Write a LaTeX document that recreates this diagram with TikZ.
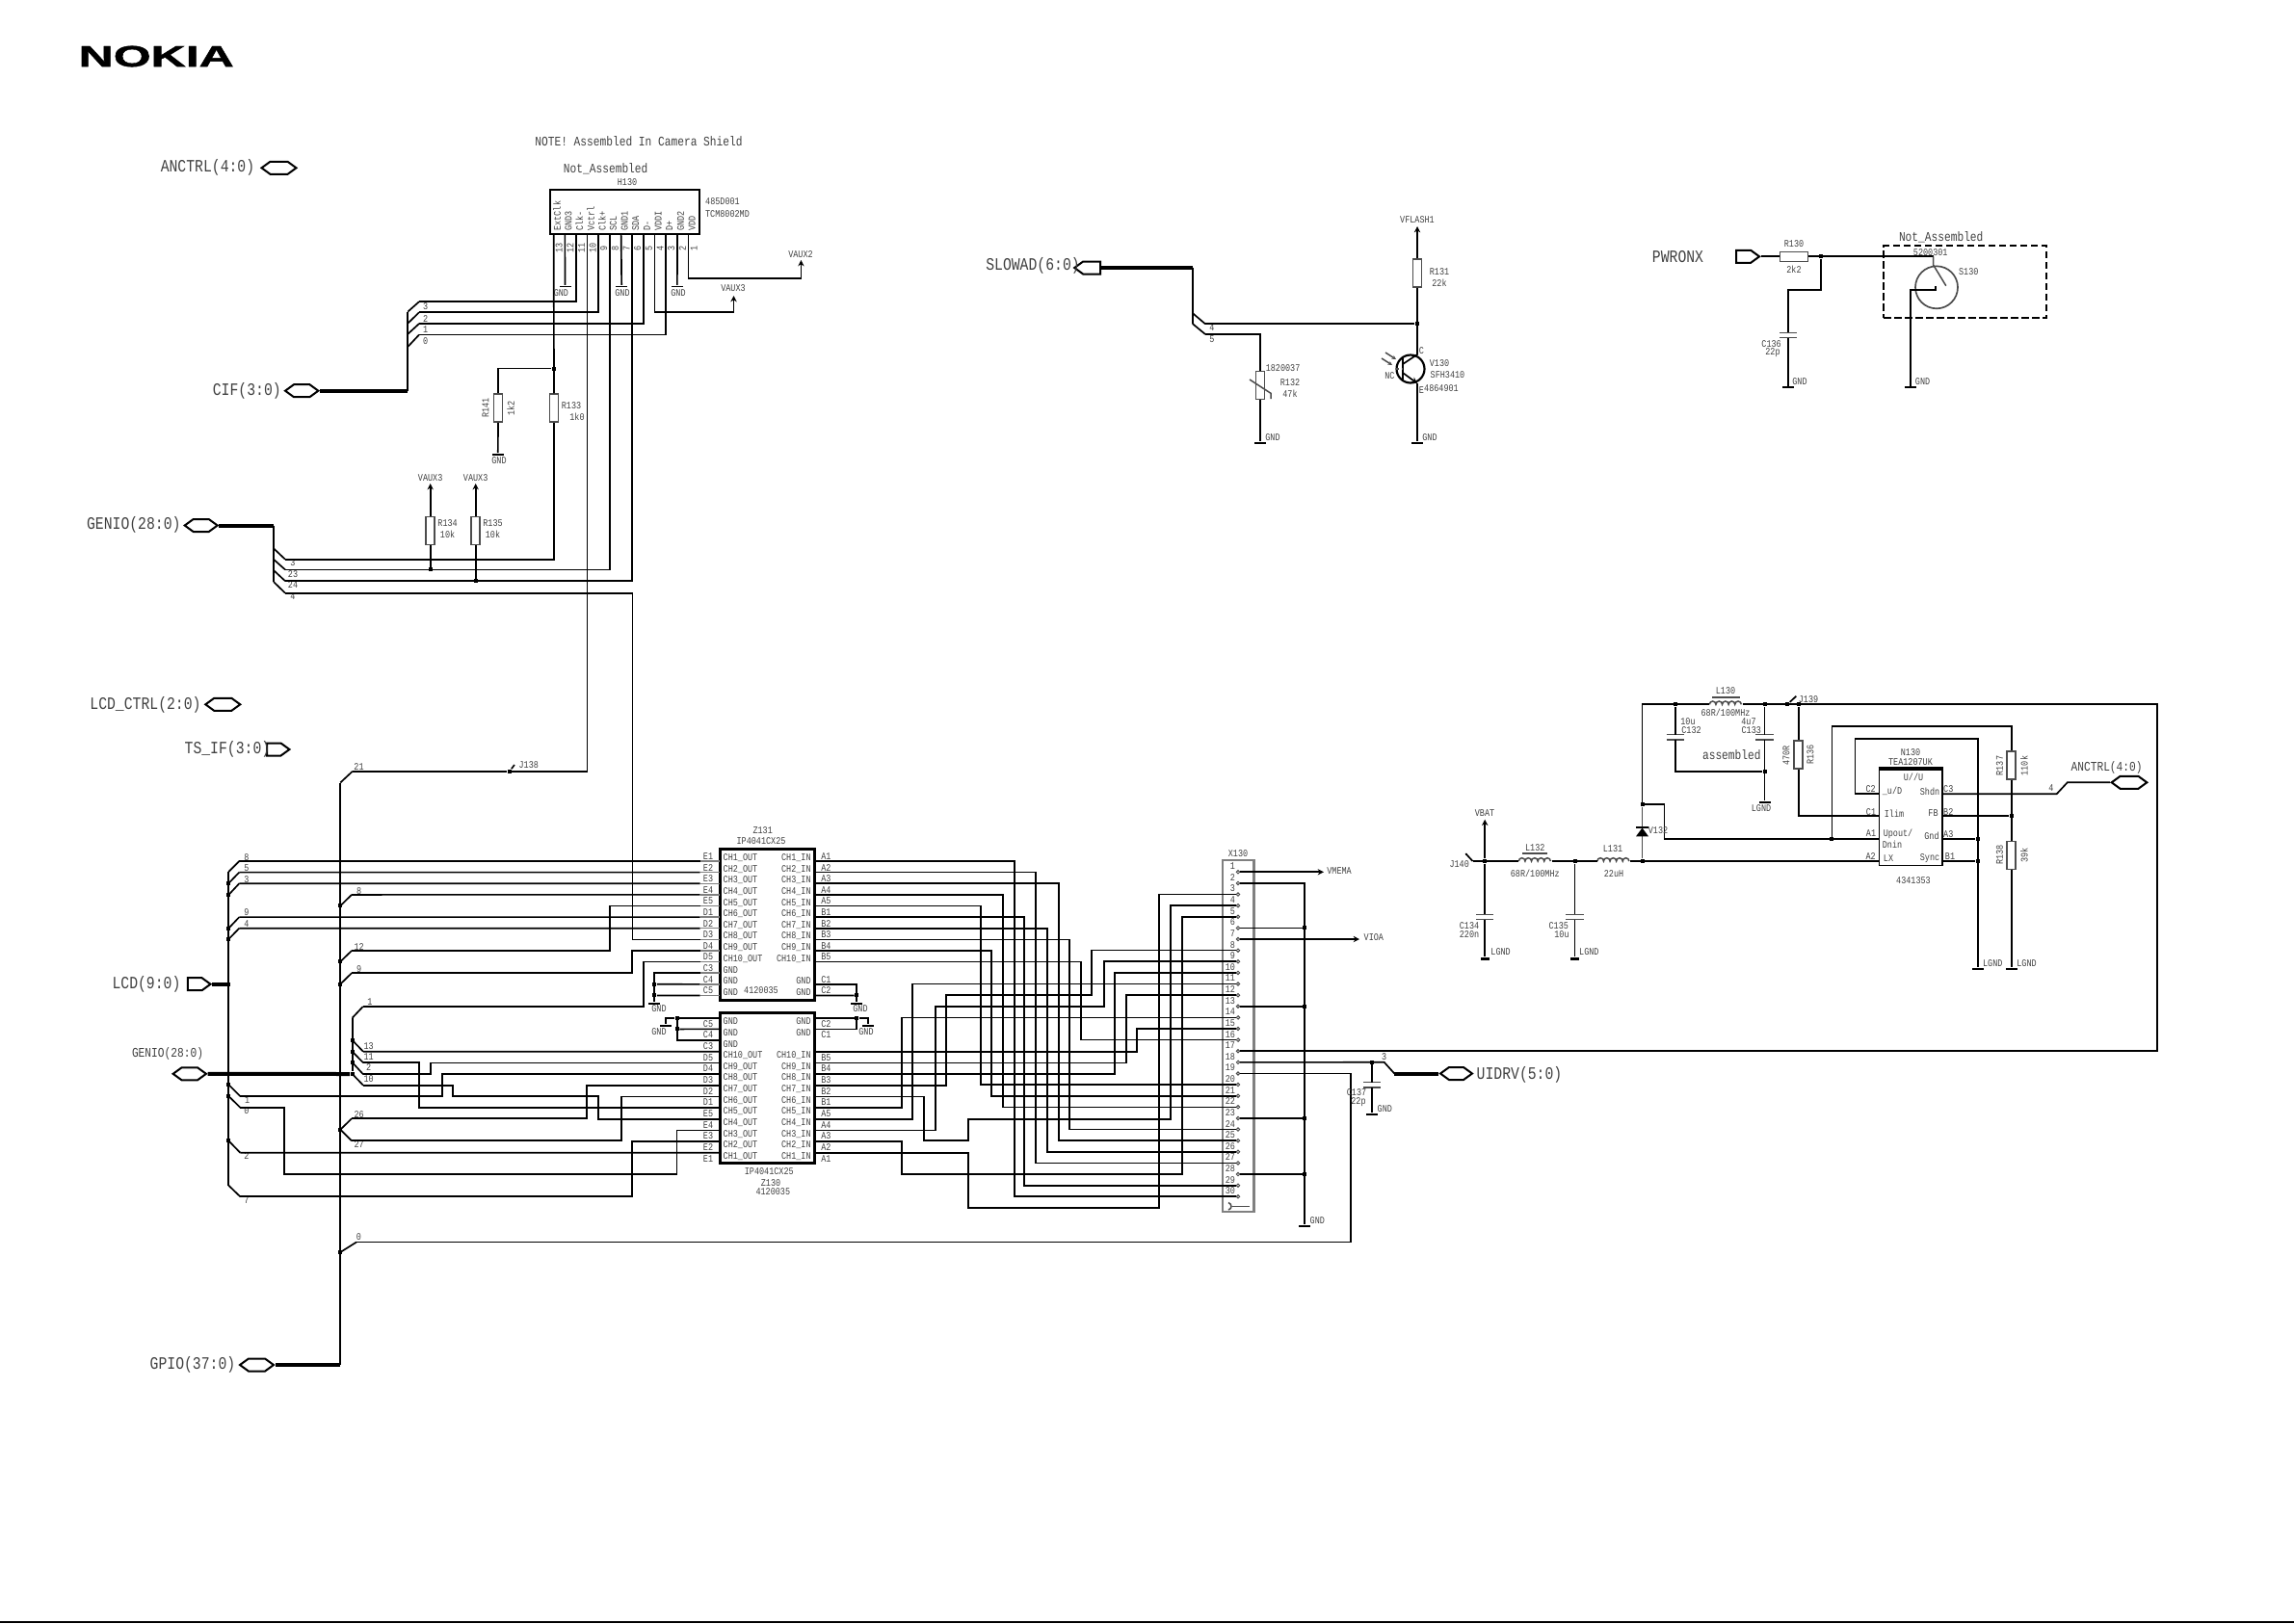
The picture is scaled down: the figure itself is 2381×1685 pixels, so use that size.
\documentclass[tikz,border=0pt]{standalone}
\usepackage{fontspec}
\setmainfont{Liberation Sans}
\setmonofont[FakeStretch=0.82]{Liberation Mono}
\newfontfamily\logofont[FakeBold=1.2]{Liberation Sans Bold}
\usetikzlibrary{arrows.meta,shapes.symbols}
\tikzset{
        wire/.style={draw, line width=.5pt}, % All the ordinary nets
        buswide/.style={draw, line width=1.2pt}, % Thick part of a bus
        busrun/.style={draw, line width=.7pt},
        stub/.style={draw=black!50, line width=.45pt},
        plate/.style={draw=black!70, line width=.45pt}, % Thin parts of symbols
        pwr/.style={wire, -{Stealth[length=1.9pt,width=1.9pt]}}, % Supply arrows
        lbl/.style={inner sep=0, text=black!75, font=\ttfamily\fontsize{3.1}{3.5}\selectfont},
        midlbl/.style={lbl, font=\ttfamily\fontsize{4.1}{4.6}\selectfont},
        biglbl/.style={lbl, font=\ttfamily\fontsize{5.4}{6}\selectfont},
        jdot/.style={rectangle, fill=black, inner sep=0, minimum size=1.2pt},
        gndbar/.style={rectangle, fill=black, inner sep=0, minimum width=3.6pt, minimum height=.55pt},
        chip/.style={rectangle, draw, line width=.9pt, inner sep=0},
        resv/.style={rectangle, draw=black!70, line width=.45pt, fill=white, inner sep=0,
            minimum width=2.7pt, minimum height=8.7pt},
        resh/.style={rectangle, draw=black!70, line width=.45pt, fill=white, inner sep=0,
            minimum width=8.7pt, minimum height=3pt},
        capn/.style={rectangle, fill=white, inner sep=0, minimum width=5.1pt, minimum height=1.2pt},
        coiln/.style={rectangle, fill=white, inner sep=0, minimum width=9.9pt, minimum height=.6pt},
        pinring/.style={circle, draw=black!70, line width=.3pt, inner sep=0, minimum size=1pt},
        hexport/.style={signal, signal to=east and west, signal pointer angle=72, draw, line width=.6pt,
            fill=white, inner sep=0, minimum height=3.9pt},
        rport/.style={hexport, signal to=east, signal from=nowhere},
        lport/.style={hexport, signal to=west, signal from=nowhere}
        }
% horizontal, vertical at x = #2, horizontal into #3
\newcommand{\hvh}[3]{\draw[wire] (#1) -| (#2,0 |- #3) -- (#3);}
\newcommand{\plates}[1]{\draw[plate] (#1.north west) -- (#1.north east) (#1.south west) -- (#1.south east);}
\newcommand{\coil}[1]{\draw[plate] (#1.west)
    arc[start angle=180,end angle=0,radius=.99pt] arc[start angle=180,end angle=0,radius=.99pt]
    arc[start angle=180,end angle=0,radius=.99pt] arc[start angle=180,end angle=0,radius=.99pt]
    arc[start angle=180,end angle=0,radius=.99pt];}

\begin{document}
\begin{tikzpicture}[x=0.3pt,y=-0.3pt]
    \useasboundingbox (0,0) rectangle (2381,1685);
    \fill (0,1683.4) rectangle (2381,1685);
    \node[anchor=west, inner sep=0] (logo) at (81,58.5)
        {\logofont\fontsize{9.2}{10}\selectfont\scalebox{1.63}[1]{NOKIA}};

    % ports and their names
    \node[hexport, minimum width=10.8pt] (ancp) at (289.5,174.3) {};
    \node[hexport, minimum width=10.3pt] (cifp) at (313.2,405.7) {};
    \node[hexport, minimum width=10.2pt] (geniop) at (208.7,545.5) {};
    \node[hexport, minimum width=10.8pt] (lcdctrlp) at (231.3,731.3) {};
    \node[rport, minimum width=7pt] (tsp) at (284.3,778) {};
    \node[rport, minimum width=7.1pt] (lcdp) at (202.2,1021.7) {};
    \node[hexport, minimum width=10.3pt] (geniobp) at (196.8,1114.8) {};
    \node[hexport, minimum width=10.5pt] (gpiop) at (266.5,1417) {};
    \node[lport, minimum width=8.1pt] (slowp) at (1133.2,278) {};
    \node[rport, minimum width=7.2pt] (pwrp) at (1809.6,266.3) {};
    \node[hexport, minimum width=9.9pt] (uidrvp) at (1511.5,1114.5) {};
    \node[hexport, minimum width=11pt] (ancrp) at (2210,812.3) {};
    \node[biglbl] (ancl) at (215.5,174.3) {ANCTRL(4:0)};
    \node[biglbl] (cifl) at (256.3,405.7) {CIF(3:0)};
    \node[biglbl] (geniol) at (138.8,545) {GENIO(28:0)};
    \node[biglbl] (lcdctrll) at (151,731.7) {LCD\_CTRL(2:0)};
    \node[biglbl, anchor=west] (tsl) at (191,778) {TS\_IF(3:0)};
    \node[biglbl] (lcdl) at (152,1022) {LCD(9:0)};
    \node[biglbl] (gpiol) at (200,1417) {GPIO(37:0)};
    \node[biglbl] (slowl) at (1072,276) {SLOWAD(6:0)};
    \node[biglbl] (pwrl) at (1741.5,266.7) {PWRONX};
    \node[biglbl] (uidrvl) at (1577,1116) {UIDRV(5:0)};
    \node[midlbl] (geniobl) at (174,1093.5) {GENIO(28:0)};
    \node[midlbl] (ancrl) at (2186.6,797.3) {ANCTRL(4:0)};
    \node[midlbl] (notel) at (663,146.8) {NOTE! Assembled In Camera Shield};
    \node[midlbl] (notasma) at (628.7,175.4) {Not\_Assembled};
    \node[midlbl] (notasmb) at (2014.7,246) {Not\_Assembled};
    \node[midlbl] (asml) at (1797.3,783.3) {assembled};

    % bus rippers: name/start on bus/end/number/number position
    \foreach \n/\ax/\ay/\bx/\by/\txt/\lx/\ly in {
        la8/237.3/905/248.3/894/8/256/890, la5/237.3/917/248.3/905.6/5/256/901.3,
        la3/237.3/929/248.3/917.2/3/256/913.3, la9/237.3/963.7/248.3/952.1/9/256/947.3,
        la4/237.3/975/248.3/963.7/4/256/959, la1/237.3/1126/249.3/1138/1/256.7/1142.3,
        la0/237.3/1138/249.3/1149.7/0/256/1153.3, la2/237.3/1184.3/249.3/1196.7/2/256/1200,
        la7/237.3/1230.7/249.3/1242.3/7/256/1246,
        gb21/353.3/812.5/365.8/800.8/21/372.5/796.5, gb8/353.3/940.3/365/928.9/8/372.7/925,
        gb12/353.3/998.3/365/987/12/372.7/982.7, gb9/353.3/1021.7/365/1010.2/9/372.7/1005.7,
        gb26/353.3/1172.7/365/1161.3/26/372.7/1157.3, gb27/353.3/1172.7/365/1184.3/27/372.7/1188.3,
        gb0/353.3/1300/370/1289.5/0/372.5/1284.3,
        gc1/365.7/1056.7/376.7/1045/1/384/1040.3, gc13/365.7/1080/377/1091.7/13/382.7/1086,
        gc11/365.7/1091.7/377/1103.3/11/382.7/1097.3, gc2/365.7/1103/377/1115.3/2/382.7/1108.3,
        gc10/365.7/1115/377/1126.7/10/382.7/1120,
        ci3/423.3/323.6/435/313.2/3/441.6/318, ci2/423.3/335.7/435/324.3/2/441.6/330.7,
        ci1/423.3/346.8/435/336/1/441.6/342, ci0/423.3/360/435/347.5/0/441.6/354,
        ge3/284/569.3/296/580.7/3/304/584.3, ge23/284/580.7/296/591.4/23/304/596,
        ge24/284/592/296/603.2/24/304/607.5, ge4/284/604/296/615.7/4/304/619.3,
        sl4/1237.7/325/1251/336.3/4/1258/340, sl5/1237.7/336/1251/347/5/1258/351.7} {
        \coordinate (rip\n) at (\ax,\ay);
        \coordinate (tap\n) at (\bx,\by);
        \draw[wire] (rip\n) -- (tap\n);
        \node[lbl] (num\n) at (\lx,\ly) {\txt};
    }
    \foreach \n in {la5,la3,la9,la4,la1,la0,la2,gb8,gb12,gb9,gb26,gb0,gc13,gc11,gc2,gc10}
        \node[jdot] (dot\n) at (rip\n) {};

    % the buses
    \node[jdot] (lcdjoin) at (237.3,1021.7) {};
    \coordinate (cifknee) at (423.3,405.7);
    \coordinate (genioknee) at (284,545.5);
    \coordinate (slowknee) at (1237.7,278);
    \draw[buswide] (cifp.east) -- (cifknee);
    \draw[busrun] (cifknee) -- (ripci3);
    \draw[buswide] (geniop.east) -- (genioknee);
    \draw[busrun] (genioknee) -- (ripge4);
    \draw[buswide] (slowp.east) -- (slowknee);
    \draw[busrun] (slowknee) -- (ripsl5);
    \draw[buswide] (lcdp.east) -- (lcdjoin);
    \draw[wire] (ripla8) -- (ripla7);
    \draw[buswide] (geniobp.east) -- (dotgc10);
    \draw[wire] (ripgc1) -- (dotgc10);
    \draw[buswide] (gpiop.east) -- (353.3,1417);
    \draw[wire] (353.3,1417) -- (ripgb21);

    % H130
    \node[chip, line width=.65pt, minimum width=46.5pt, minimum height=13.8pt] (h130) at (648.25,219.85) {};
    \node[lbl] (h130l) at (651,188.6) {H130};
    \node[lbl] (h130c) at (750,208.6) {485D001};
    \node[lbl] (h130t) at (755,222.5) {TCM8002MD};
    \foreach \n/\txt in {13/ExtClk,12/GND3,11/Clk-,10/Vctrl,9/Clk+,8/SCL,7/GND1,6/SDA,5/D-,4/VDDI,3/D+,2/GND2,1/VDD} {
        \pgfmathsetmacro{\px}{714.6-(\n-1)*11.66}
        \coordinate (h\n) at (\px,243);
        \node[lbl, rotate=90, anchor=west] (hname\n) at (\px+3.5,240) {\txt};
        \node[lbl, rotate=90] (hnum\n) at (\px+5.5,257.5) {\n};
    }
    \foreach \n/\x in {12/586.5,7/645.2,2/702.9} {
        \node[gndbar] (gh\n) at (\x,297.5) {};
        \draw[wire] (h\n) -- (gh\n);
    }
    \node[lbl] (ghl12) at (582.4,304) {GND};
    \node[lbl] (ghl7) at (646,304) {GND};
    \node[lbl] (ghl2) at (704,304) {GND};
    \draw[wire] (h11) |- (tapci3);
    \draw[wire] (h9) |- (tapci2);
    \draw[wire] (h5) |- (tapci1);
    \draw[wire] (h3) |- (tapci0);
    \draw[wire] (h8) |- (tapge23);
    \draw[wire] (h6) |- (tapge24);
    \coordinate (aux3a) at (761.5,307);
    \coordinate (aux2a) at (831.4,270);
    \draw[pwr] (h4) |- (761.5,324.3) -- (aux3a);
    \draw[pwr] (h1) |- (831.4,289) -- (aux2a);
    \node[lbl] (vaux3a) at (761,298.6) {VAUX3};
    \node[lbl] (vaux2a) at (831,263.6) {VAUX2};

    % resistors on the camera nets
    \node[resv] (r133) at (575,423.6) {};
    \node[resv] (r141) at (517,423.6) {};
    \node[resv] (r134) at (446.7,551) {};
    \node[resv] (r135) at (493.7,551) {};
    \node[jdot] (j133) at (574.8,382.5) {};
    \node[gndbar] (g141) at (516.8,471.8) {};
    \node[jdot] (j134) at (446.7,591.4) {};
    \node[jdot] (j135) at (493.7,603.2) {};
    \coordinate (aux134) at (446.7,502);
    \coordinate (aux135) at (493.7,502);
    \draw[wire] (h13) -- (r133.north);
    \draw[wire] (r133.south) |- (tapge3);
    \draw[wire] (j133) -| (r141.north);
    \draw[wire] (r141.south) -- (g141);
    \draw[pwr] (r134.north) -- (aux134);
    \draw[pwr] (r135.north) -- (aux135);
    \draw[wire] (r134.south) -- (j134);
    \draw[wire] (r135.south) -- (j135);
    \node[lbl] (r133l) at (593,421.4) {R133};
    \node[lbl] (r133v) at (599,432.5) {1k0};
    \node[lbl, rotate=90] (r141l) at (504,423.6) {R141};
    \node[lbl, rotate=90] (r141v) at (530,423.6) {1k2};
    \node[lbl] (g141l) at (518,478) {GND};
    \node[lbl] (vaux3b) at (446.7,495.7) {VAUX3};
    \node[lbl] (vaux3c) at (493.7,495.7) {VAUX3};
    \node[lbl] (r134l) at (464.6,543) {R134};
    \node[lbl] (r134v) at (464.6,555) {10k};
    \node[lbl] (r135l) at (511.5,543) {R135};
    \node[lbl] (r135v) at (511.5,555) {10k};

    % Z131
    \node[chip, minimum width=29.4pt, minimum height=47pt] (z131) at (796,960) {};
    \node[lbl] (z131l) at (791.7,861.7) {Z131};
    \node[lbl] (z131t) at (790,873.3) {IP4041CX25};
    \node[lbl] (z131c) at (790,1027.7) {4120035};
    \foreach \pn/\nm [count=\i from 0] in {E1/CH1\_OUT,E2/CH2\_OUT,E3/CH3\_OUT,E4/CH4\_OUT,E5/CH5\_OUT,
            D1/CH6\_OUT,D2/CH7\_OUT,D3/CH8\_OUT,D4/CH9\_OUT,D5/CH10\_OUT,C3/GND,C4/GND,C5/GND} {
        \pgfmathsetmacro{\py}{894+11.62*\i}
        \coordinate (z131\pn) at (726.7,\py);
        \draw[stub] (z131\pn) -- (747,\py);
        \node[lbl, anchor=west] (z131name\pn) at (750,\py-3.3) {\nm};
        \node[lbl] (z131pin\pn) at (735,\py-5) {\pn};
    }
    \foreach \pn/\nm/\i in {A1/CH1\_IN/0,A2/CH2\_IN/1,A3/CH3\_IN/2,A4/CH4\_IN/3,A5/CH5\_IN/4,B1/CH6\_IN/5,
            B2/CH7\_IN/6,B3/CH8\_IN/7,B4/CH9\_IN/8,B5/CH10\_IN/9,C1/GND/11,C2/GND/12} {
        \pgfmathsetmacro{\py}{894+11.62*\i}
        \coordinate (z131\pn) at (845,\py);
        \node[lbl, anchor=east] (z131name\pn) at (842.3,\py-3.3) {\nm};
        \node[lbl, anchor=west] (z131pin\pn) at (851.7,\py-5) {\pn};
    }

    % Z130
    \node[chip, minimum width=29.4pt, minimum height=46.8pt] (z130) at (796,1129.7) {};
    \node[lbl] (z130t) at (798.3,1215.7) {IP4041CX25};
    \node[lbl] (z130l) at (800,1227.7) {Z130};
    \node[lbl] (z130c) at (802.3,1236.7) {4120035};
    \foreach \pn/\nm [count=\i from 0] in {C5/GND,C4/GND,C3/GND,D5/CH10\_OUT,D4/CH9\_OUT,D3/CH8\_OUT,D2/CH7\_OUT,
            D1/CH6\_OUT,E5/CH5\_OUT,E4/CH4\_OUT,E3/CH3\_OUT,E2/CH2\_OUT,E1/CH1\_OUT} {
        \pgfmathsetmacro{\py}{1056.7+11.67*\i}
        \coordinate (z130\pn) at (747,\py);
        \node[lbl, anchor=west] (z130name\pn) at (750,\py+3.7) {\nm};
        \node[lbl] (z130pin\pn) at (735,\py+6) {\pn};
    }
    \foreach \pn/\nm/\i in {C2/GND/0,C1/GND/1,B5/CH10\_IN/3,B4/CH9\_IN/4,B3/CH8\_IN/5,B2/CH7\_IN/6,
            B1/CH6\_IN/7,A5/CH5\_IN/8,A4/CH4\_IN/9,A3/CH3\_IN/10,A2/CH2\_IN/11,A1/CH1\_IN/12} {
        \pgfmathsetmacro{\py}{1056.7+11.67*\i}
        \coordinate (z130\pn) at (845,\py);
        \node[lbl, anchor=east] (z130name\pn) at (842.3,\py+3.7) {\nm};
        \node[lbl, anchor=west] (z130pin\pn) at (851.7,\py+6) {\pn};
    }

    % X130
    \node[rectangle, draw=black!50, line width=.7pt, inner sep=0, minimum width=9.8pt, minimum height=109.5pt] (x130) at (1285,1075.8) {};
    \node[lbl] (x130l) at (1285,886) {X130};
    \foreach \n in {1,...,30} {
        \pgfmathsetmacro{\py}{905.3+11.62*(\n-1)}
        \node[pinring] (x\n) at (1285,\py) {};
        \node[lbl, anchor=east] (xnum\n) at (1282.7,\py-6) {\n};
    }
    \draw[plate] (1279,1252.3) -- (1296.7,1252.3);
    \draw[plate] (1275,1248.5) .. controls (1279,1250) and (1279,1255) .. (1275,1256);
    \coordinate (vmemaa) at (1374,905.3);
    \coordinate (vioaa) at (1411,975);
    \draw[pwr] (x1) -- (vmemaa);
    \draw[pwr] (x7) -- (vioaa);
    \node[lbl, anchor=west] (vmemal) at (1376.7,903.7) {VMEMA};
    \node[lbl, anchor=west] (vioal) at (1415,973) {VIOA};
    \node[gndbar] (grail) at (1354.3,1273) {};
    \node[lbl] (graill) at (1367.3,1267.3) {GND};
    \draw[wire] (x2) -| (grail);
    \foreach \n in {6,13,23,28} {
        \node[jdot] (rail\n) at (x\n -| grail) {};
        \draw[wire] (x\n) -- (rail\n);
    }

    % straight nets, chips to connector
    \foreach \p/\v/\q in {z131A1/1052.7/x30,z131A2/1075.3/x27,z131A3/1098.7/x25,z131A4/1040.7/x22,
            z131A5/1017.7/x20,z131B1/1063.3/x29,z131B2/1087.3/x26,z131B3/1110.3/x24,z131B4/1028.7/x21,
            z131B5/1121.7/x16,z130B5/1180.3/x15,z130B4/1168.7/x12,z130B3/1157.3/x10,z130A4/947.3/x11,
            z130A5/935.7/x14}
        \hvh{\p}{\v}{\q}
    \draw[wire] (z130A1) -| (1005.3,1254.3) -| (1203.3,0 |- x3) -- (x3);
    \draw[wire] (z130B1) -| (959.3,1184) -| (1005.3,1161.7) -| (1215.3,0 |- x4) -- (x4);
    \draw[wire] (z130A2) -| (935.7,1219.3) -| (1226.7,0 |- x5) -- (x5);
    \draw[wire] (z130B2) -| (982.3,1033.3) -| (1133.3,0 |- x8) -- (x8);
    \draw[wire] (z130A3) -| (970.7,1045) -| (1145.7,0 |- x9) -- (x9);

    % rippers to chips
    \draw[wire] (tapla8) -- (z131E1);
    \draw[wire] (tapla5) -- (z131E2);
    \draw[wire] (tapla3) -- (z131E3);
    \draw[wire] (tapgb8) -- (z131E4);
    \draw[wire] (tapla9) -- (z131D1);
    \draw[wire] (tapla4) -- (z131D2);
    \draw[wire] (tapgc13) -- (z130D5);
    \draw[wire] (tapla2) -- (z130E1);
    \hvh{tapgb12}{633.3}{z131E5}
    \hvh{tapgb9}{656.3}{z131D4}
    \hvh{tapgc1}{668.3}{z131D5}
    \hvh{tapge4}{656.4}{z131D3}
    \hvh{tapla1}{458.7}{z130D3}
    \hvh{tapla7}{656.3}{z130E2}
    \hvh{tapgb26}{609.3}{z130D2}
    \hvh{tapgb27}{645.3}{z130D1}
    \hvh{tapgc11}{435.3}{z130E5}
    \hvh{tapgc2}{446.7}{z130D4}
    \draw[wire] (tapla0) -| (295.3,1219.3) -| (702.4,0 |- z130E3) -- (z130E3);
    \draw[wire] (tapgc10) -| (470.3,1138) -| (621.3,0 |- z130E4) -- (z130E4);
    \draw[wire] (tapgb0) -| (1401.7,0 |- x19) -- (x19);

    % J138
    \node[jdot] (j138) at (528.8,800.8) {};
    \coordinate (j138b) at (534,794);
    \draw[wire] (tapgb21) -- (j138);
    \draw[wire] (j138) -| (h10);
    \draw[wire] (j138) -- (j138b);
    \node[lbl] (j138l) at (548.8,794.3) {J138};

    % chip grounds
    \node[gndbar] (gza) at (679.3,1041.7) {};
    \node[gndbar] (gzb) at (889.3,1041.7) {};
    \node[gndbar] (gzc) at (691.3,1065) {};
    \node[gndbar] (gzd) at (901,1065) {};
    \node[lbl] (gzal) at (684,1047) {GND};
    \node[lbl] (gzbl) at (893,1047) {GND};
    \node[lbl] (gzcl) at (684,1070.7) {GND};
    \node[lbl] (gzdl) at (899,1070.7) {GND};
    \node[jdot] (ja4) at (679.3,1021.8) {};
    \node[jdot] (ja5) at (679.3,1033.4) {};
    \node[jdot] (jb2) at (889.3,1033.4) {};
    \node[jdot] (jc5) at (702.7,1056.7) {};
    \node[jdot] (jc4) at (702.7,1068.4) {};
    \node[jdot] (jd2) at (889.3,1056.7) {};
    \draw[wire] (z131C3) -| (gza);
    \draw[wire] (z131C4) -- (ja4);
    \draw[wire] (z131C5) -- (ja5);
    \draw[wire] (z131C1) -| (gzb);
    \draw[wire] (z131C2) -- (jb2);
    \draw[wire] (z130C5) -- (jc5) -| (gzc);
    \draw[wire] (z130C4) -- (jc4);
    \draw[wire] (jc5) |- (z130C3);
    \draw[wire] (z130C2) -- (jd2) -| (gzd);
    \draw[wire] (jd2) |- (z130C1);

    % UIDRV
    \node[jdot] (juidrv) at (1424.3,1102.8) {};
    \node[capn] (c137) at (1424.3,1126.3) {};
    \plates{c137}
    \node[gndbar] (g137) at (1424.3,1156.7) {};
    \coordinate (uitap) at (1436.7,1102.8);
    \coordinate (uiknee) at (1447.3,1114.5);
    \draw[wire] (x18) -- (uitap) -- (uiknee);
    \draw[buswide] (uiknee) -- (uidrvp.west);
    \draw[wire] (juidrv) -- (c137.north);
    \draw[wire] (c137.south) -- (g137);
    \node[lbl] (c137l) at (1408,1134.3) {C137};
    \node[lbl] (c137v) at (1410,1144) {22p};
    \node[lbl] (g137l) at (1437.3,1151) {GND};
    \node[lbl] (uinum) at (1436.7,1097.3) {3};

    % flash
    \node[resv] (r131) at (1471,283.6) {};
    \node[resv] (r132) at (1308,400) {};
    \node[jdot] (jflash) at (1471,336.3) {};
    \node[gndbar] (g132) at (1308,460) {};
    \node[gndbar] (g130) at (1471,460) {};
    \node[circle, draw, line width=.65pt, inner sep=0, minimum size=8.7pt] (v130) at (1464,383) {};
    \coordinate (vflasha) at (1471,235);
    \coordinate (v130c) at (1471,368);
    \coordinate (v130e) at (1471,398);
    \draw[pwr] (r131.north) -- (vflasha);
    \draw[wire] (tapsl4) -- (jflash);
    \draw[wire] (r131.south) -- (v130c) -- (1456,378);
    \draw[pwr] (1456,387) -- (v130e);
    \draw[wire] (v130e) -- (g130);
    \draw[wire] (1456,371) -- (1456,395);
    \draw[plate, dashed, dash pattern=on 1pt off .7pt] (1449,383) -- (1456,383);
    \draw[plate, -{Stealth[length=1.3pt,width=1.3pt]}] (1438,366) -- (1449,373);
    \draw[plate, -{Stealth[length=1.3pt,width=1.3pt]}] (1434,372) -- (1445,379);
    \draw[wire] (tapsl5) -| (r132.north);
    \draw[wire] (r132.south) -- (g132);
    \draw[plate] (1297,394) -- (1319,408.3) -- (1319,414);
    \foreach \n/\x/\y/\txt in {vflashl/1471/228.3/VFLASH1, r131l/1494/281.7/R131, r131v/1494/294/22k,
            r132c/1331.6/382.3/1820037, r132l/1339/397.3/R132, r132v/1339/409/47k, v130n/1442.4/390/NC,
            v130cl/1475.4/364.3/C, v130el/1475.4/405/E, v130l/1494/377.3/V130, v130t/1502.5/389/SFH3410,
            v130o/1496/403.3/4864901, g132l/1321/454/GND, g130l/1484/454/GND}
        \node[lbl] (\n) at (\x,\y) {\txt};

    % PWRONX
    \node[resh] (r130) at (1862,266.3) {};
    \node[jdot] (jpwr) at (1890,266.3) {};
    \node[capn] (c136) at (1856.2,348) {};
    \plates{c136}
    \node[gndbar] (g136) at (1856.2,402.3) {};
    \node[gndbar] (g130s) at (1983,402.3) {};
    \node[circle, draw=black!70, line width=.5pt, inner sep=0, minimum size=13.2pt] (s130) at (2010,298.3) {};
    \node[rectangle, draw, dashed, dash pattern=on 2.2pt off 1.1pt, line width=.5pt, inner sep=0,
        minimum width=50.6pt, minimum height=22.6pt] (s130box) at (2039.6,292.6) {};
    \draw[wire] (pwrp.east) -- (r130.west);
    \draw[wire] (r130.east) -- (2006.6,266.3);
    \draw[plate] (2006.6,266.3) -- (2006.6,275) -- (2019.8,296.7);
    \draw[wire] (jpwr) |- (1856.2,301.3) -- (c136.north);
    \draw[wire] (c136.south) -- (g136);
    \draw[wire] (g130s) |- (2008.9,301.3) -- (2008.9,296.7);
    \foreach \n/\x/\y/\txt in {r130l/1862/253/R130, r130v/1862/280/2k2, c136l/1838.6/356.7/C136, c136v/1840/365.7/22p,
            g136l/1868/395.7/GND, g130sl/1995.6/395.7/GND, s130c/2003.7/261.7/5200301, s130l/2043.3/281.7/S130}
        \node[lbl] (\n) at (\x,\y) {\txt};

    % N130
    \node[rectangle, draw, line width=.5pt, inner sep=0, minimum width=19.6pt, minimum height=29.9pt] (n130) at (1983,848.5) {};
    \draw[line width=1.1pt] (n130.north west) -- (n130.north east);
    \foreach \n/\x/\y in {C2/1950.4/824.3,C1/1950.4/846.7,A1/1950.4/871.3,A2/1950.4/894,
            C3/2015.7/824.3,B2/2015.7/847,A3/2015.7/871.3,B1/2015.7/894}
        \coordinate (n\n) at (\x,\y);
    \node[resv] (r136) at (1866.7,783.3) {};
    \node[resv] (r137) at (2087.7,794.7) {};
    \node[resv] (r138) at (2087.7,887.8) {};
    \node[coiln] (l130) at (1791.5,731.3) {};
    \node[coiln] (l132) at (1593.5,894) {};
    \node[coiln] (l131) at (1675,894) {};
    \coil{l130}
    \coil{l132}
    \coil{l131}
    \draw[plate] (1777,724) -- (1806,724);
    \draw[plate] (1580,886) -- (1606,886);
    \node[capn] (c132) at (1738.7,765.3) {};
    \node[capn] (c133) at (1831.5,765.3) {};
    \node[capn] (c134) at (1541.2,952) {};
    \node[capn] (c135) at (1634.6,952) {};
    \plates{c132}
    \plates{c133}
    \plates{c134}
    \plates{c135}
    \foreach \n/\x/\y in {j132/1738.7/731.3, j133b/1831.5/731.3, j139a/1855/731.3, j139b/1866.7/731.3,
            j133c/1831.5/801.3, jdtop/1704.5/835.3, jdbot/1704.5/894, j135b/1634.6/894, j134b/1541.2/894,
            jupout/1901.4/871.3, jgnda/2053/871.3, jgndb/2053/894, jfb/2087.7/847}
        \node[jdot] (\n) at (\x,\y) {};
    \node[gndbar] (g133) at (1831.5,832.7) {};
    \node[gndbar, minimum width=2.8pt, minimum height=.9pt] (g134) at (1541.2,995) {};
    \node[gndbar, minimum width=2.8pt, minimum height=.9pt] (g135) at (1634.6,995) {};
    \node[gndbar] (gna) at (2053,1006) {};
    \node[gndbar] (gnb) at (2087.7,1006) {};
    \coordinate (j140a) at (1528.5,894);
    \coordinate (j140b) at (1521.8,886.7);
    \coordinate (j139c) at (1863.7,723.3);
    \coordinate (vbata) at (1541.2,850.7);
    \coordinate (anctap) at (2134.6,824.3);
    \coordinate (ancknee) at (2145.8,812.3);
    % input side
    \draw[wire] (j140a) -- (l132.west);
    \draw[wire] (j140a) -- (j140b);
    \fill (j140b) circle[radius=.35pt];
    \draw[wire] (l132.east) -- (l131.west);
    \draw[wire] (l131.east) -- (nA2);
    \draw[pwr] (j134b) -- (vbata);
    \draw[wire] (j134b) -- (c134.north);
    \draw[wire] (c134.south) -- (g134);
    \draw[wire] (j135b) -- (c135.north);
    \draw[wire] (c135.south) -- (g135);
    % diode
    \draw[plate] (jdbot) -- (jdtop);
    \fill (1698,868.3) -- (1711,868.3) -- (1704.5,859.5) -- cycle;
    \draw[line width=.6pt] (1698,859.3) -- (1711,859.3);
    \draw[wire] (jdtop) -- (1704.5,731.3) -- (l130.west);
    \draw[wire] (l130.east) -| (2239,0 |- x17) -- (x17);
    \draw[wire] (j139a) -- (j139c);
    \fill (j139c) circle[radius=.35pt];
    \hvh{jdtop}{1727.4}{nA1}
    \draw[wire] (j132) -- (c132.north);
    \draw[wire] (c132.south) |- (j133c);
    \draw[wire] (j133b) -- (c133.north);
    \draw[wire] (c133.south) -- (g133);
    \draw[wire] (j139b) -- (r136.north);
    \draw[wire] (r136.south) |- (nC1);
    \draw[wire] (jupout) |- (2087.7,754.3) -- (r137.north);
    \draw[wire] (r137.south) -- (r138.north);
    \draw[wire] (r138.south) -- (gnb);
    \draw[wire] (nC2) -| (1925.4,766.7) -| (gna);
    \draw[wire] (nB2) -- (jfb);
    \draw[wire] (nA3) -- (jgnda);
    \draw[wire] (nB1) -- (jgndb);
    \draw[wire] (nC3) -- (anctap) -- (ancknee) -- (ancrp.west);
    \foreach \n/\x/\y/\txt in {l130l/1791/717.3/L130, l130v/1791/740/{68R/100MHz}, j139l/1877/725.7/J139,
            c132v/1752/749.3/10u, c132l/1755.5/758.3/C132, c133v/1815/749.3/4u7, c133l/1817.8/758.3/C133,
            g133l/1828/839/LGND, n130l/1983/780.7/N130, n130t/1983/791/TEA1207UK, n130u/1986/806.7/{U//U},
            n130a/1964/821.7/{\_u/D}, n130b/2003/821.7/Shdn, n130c/1966/844.3/Ilim, n130d/2006.5/844.3/FB,
            n130e/1970/866/{Upout/}, n130f/1964/876.7/Dnin, n130g/2005/867.7/Gnd, n130h/1960/891/LX,
            n130i/2003/891/Sync, n130j/1986/914/4341353, n130k/1941.7/819/C2, n130m/1942/842.7/C1,
            n130o/1942/865/A1, n130p/1941.7/889/A2, n130q/2022.3/819/C3, n130r/2022.3/842.7/B2,
            n130s/2022.3/865.7/A3, n130w/2024/889/B1, v132l/1721/861.7/V132, vbatl/1541/844/VBAT,
            j140l/1514.7/897.3/J140, l132l/1593.3/880.3/L132, l132v/1593.3/906.7/{68R/100MHz},
            l131l/1674/881.3/L131, l131v/1675/906.7/22uH, c134l/1525/960.7/C134, c134v/1525/970/220n,
            g134l/1557.6/988.3/LGND, c135l/1617.8/960.7/C135, c135v/1621/970/10u, g135l/1649.4/988.3/LGND,
            gnal/2068.3/1000/LGND, gnbl/2103.5/1000/LGND, ancnum/2129/817.7/4}
        \node[lbl] (\n) at (\x,\y) {\txt};
    \foreach \n/\x/\y/\txt in {r136a/1854/784.3/470R, r136b/1879/783.3/R136, r137a/2075.4/795/R137,
            r137b/2101/795/110k, r138a/2075.4/887.7/R138, r138b/2101/887.7/39k}
        \node[lbl, rotate=90] (\n) at (\x,\y) {\txt};
\end{tikzpicture}
\end{document}
